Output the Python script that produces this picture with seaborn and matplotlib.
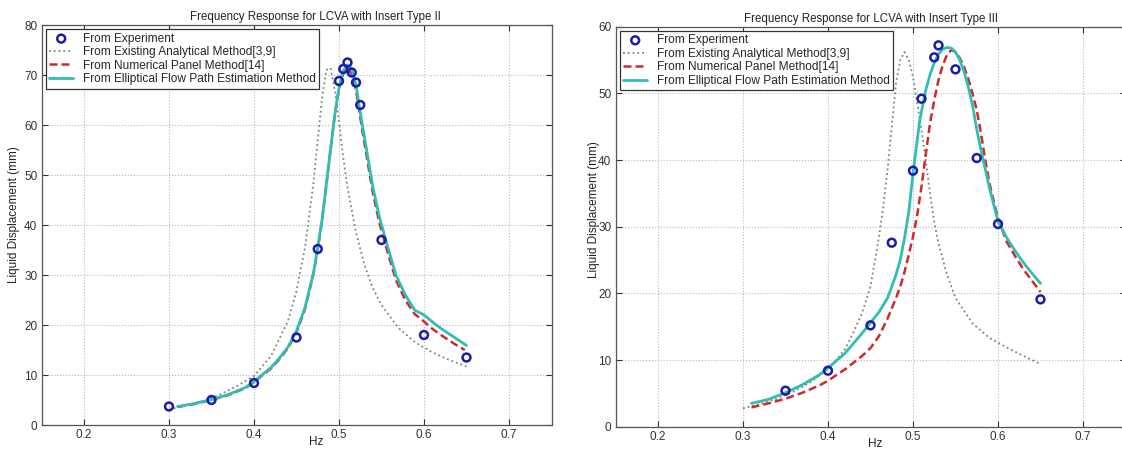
import numpy as np
import pandas as pd
import matplotlib
matplotlib.use('Agg')
import matplotlib.pyplot as plt
import seaborn as sns

# ---- Insert Type II (left) ----
exp2_x = [0.30, 0.35, 0.40, 0.45, 0.475, 0.50, 0.505, 0.51, 0.515, 0.52, 0.525, 0.55, 0.60, 0.65]
exp2_y = [3.7, 5.0, 8.4, 17.5, 35.2, 68.8, 71.2, 72.5, 70.5, 68.5, 64.0, 37.0, 18.0, 13.5]

ana2_x = [0.30, 0.32, 0.34, 0.36, 0.38, 0.40, 0.42, 0.44, 0.45, 0.46, 0.47, 0.475, 0.48, 0.485,
          0.49, 0.495, 0.50, 0.505, 0.51, 0.52, 0.53, 0.54, 0.55, 0.57, 0.59, 0.61, 0.63, 0.65]
ana2_y = [3.1, 3.9, 4.8, 6.1, 7.8, 9.8, 13.8, 20.8, 26.8, 35.5, 48.5, 57.0, 65.3, 71.0,
          71.4, 67.0, 60.5, 53.5, 47.5, 38.5, 32.0, 27.3, 24.0, 19.4, 16.5, 14.5, 13.0, 11.7]

num2_x = [0.31, 0.33, 0.35, 0.37, 0.39, 0.40, 0.42, 0.43, 0.44, 0.45, 0.46, 0.47, 0.475, 0.48,
          0.485, 0.49, 0.495, 0.50, 0.505, 0.51, 0.515, 0.52, 0.525, 0.53, 0.535, 0.54, 0.547,
          0.555, 0.567, 0.578, 0.589, 0.60, 0.61, 0.62, 0.635, 0.648]
num2_y = [3.6, 4.2, 5.0, 6.0, 7.4, 8.6, 11.3, 13.2, 15.4, 18.5, 23.2, 30.2, 35.2, 40.8,
          47.8, 55.0, 62.0, 67.3, 70.3, 71.3, 70.2, 67.0, 61.5, 56.3, 51.3, 46.3, 40.8,
          35.8, 29.0, 25.0, 22.2, 20.7, 19.2, 18.0, 16.3, 15.0]

ell2_x = [0.31, 0.33, 0.35, 0.37, 0.39, 0.40, 0.42, 0.43, 0.44, 0.45, 0.46, 0.47, 0.475, 0.48,
          0.485, 0.49, 0.495, 0.50, 0.505, 0.51, 0.515, 0.52, 0.525, 0.53, 0.535, 0.54, 0.547,
          0.555, 0.567, 0.578, 0.589, 0.60, 0.61, 0.62, 0.635, 0.65]
ell2_y = [3.7, 4.3, 5.1, 6.1, 7.5, 8.7, 11.5, 13.4, 15.6, 18.8, 23.5, 30.5, 35.5, 41.0,
          48.0, 55.0, 62.0, 67.5, 70.8, 72.0, 71.2, 68.0, 62.5, 57.5, 52.5, 47.5, 42.0,
          37.0, 30.0, 26.0, 23.0, 22.0, 20.6, 19.3, 17.6, 15.9]

# ---- Insert Type III (right) ----
exp3_x = [0.35, 0.40, 0.45, 0.475, 0.50, 0.51, 0.525, 0.53, 0.55, 0.575, 0.60, 0.65]
exp3_y = [5.4, 8.4, 15.2, 27.6, 38.4, 49.2, 55.4, 57.2, 53.6, 40.3, 30.4, 19.1]

ana3_x = [0.30, 0.32, 0.34, 0.36, 0.38, 0.40, 0.42, 0.43, 0.44, 0.45, 0.46, 0.465, 0.47, 0.475,
          0.48, 0.485, 0.49, 0.495, 0.50, 0.505, 0.51, 0.515, 0.52, 0.525, 0.53, 0.54, 0.55,
          0.57, 0.59, 0.60, 0.61, 0.63, 0.65]
ana3_y = [2.75, 3.4, 4.2, 5.3, 6.7, 8.6, 11.6, 14.2, 17.0, 21.0, 28.5, 33.0, 38.5, 45.0,
          51.5, 55.0, 56.2, 55.0, 52.5, 48.5, 44.5, 40.0, 35.0, 30.7, 27.5, 22.8, 19.3,
          15.5, 13.3, 12.6, 11.9, 10.6, 9.4]

num3_x = [0.31, 0.33, 0.35, 0.37, 0.39, 0.40, 0.42, 0.44, 0.45, 0.46, 0.47, 0.48, 0.485, 0.49,
          0.495, 0.50, 0.505, 0.51, 0.515, 0.52, 0.525, 0.53, 0.535, 0.54, 0.545, 0.55, 0.555,
          0.56, 0.565, 0.57, 0.575, 0.58, 0.585, 0.59, 0.595, 0.60, 0.61, 0.62, 0.63, 0.64, 0.65]
num3_y = [2.9, 3.5, 4.2, 5.1, 6.2, 6.9, 8.6, 10.6, 11.8, 13.6, 16.2, 19.3, 21.0, 23.2,
          25.8, 28.5, 31.8, 36.0, 40.8, 45.5, 49.0, 52.0, 54.2, 55.8, 56.5, 56.2, 55.3,
          54.0, 52.2, 50.0, 47.5, 44.0, 40.0, 36.5, 33.8, 31.3, 27.8, 25.6, 23.6, 21.9, 20.2]

ell3_x = [0.31, 0.33, 0.35, 0.37, 0.39, 0.40, 0.42, 0.43, 0.44, 0.45, 0.46, 0.47, 0.475, 0.48,
          0.485, 0.49, 0.495, 0.50, 0.504, 0.508, 0.515, 0.52, 0.525, 0.53, 0.535, 0.54, 0.545,
          0.55, 0.555, 0.56, 0.565, 0.57, 0.575, 0.58, 0.59, 0.60, 0.61, 0.62, 0.63, 0.64, 0.65]
ell3_y = [3.5, 4.1, 5.1, 6.3, 7.8, 8.8, 11.0, 12.5, 14.0, 15.6, 17.2, 19.3, 21.0, 22.8,
          25.0, 28.3, 32.2, 38.0, 42.0, 46.0, 50.5, 52.8, 54.6, 55.9, 56.6, 56.9, 56.8,
          56.2, 55.0, 53.3, 51.0, 48.2, 44.6, 41.5, 35.8, 30.8, 28.4, 26.4, 24.6, 23.0, 21.5]

labels = ['From Experiment', 'From Existing Analytical Method[3,9]',
          'From Numerical Panel Method[14]', 'From Elliptical Flow Path Estimation Method']
titles = ['Frequency Response for LCVA with Insert Type II',
          'Frequency Response for LCVA with Insert Type III']

sns.set_theme(style='white')
plt.rcParams['font.family'] = ['Liberation Sans', 'DejaVu Sans']

c_exp = '#1c1ca8'
c_ana = '#6f8f6f'
c_num = '#cf2a2a'
c_ell = '#30bdb3'

fig = plt.figure(figsize=(11.22, 4.5), dpi=100)
W, H = 1122.0, 450.0
ax1 = fig.add_axes([41.5 / W, 25 / H, 510 / W, 400 / H])
ax2 = fig.add_axes([615.5 / W, 23.3 / H, 510 / W, 400 / H])

panels = [
    (ax1, exp2_x, exp2_y, ana2_x, ana2_y, num2_x, num2_y, ell2_x, ell2_y, 80, titles[0], 0.538, 0.527),
    (ax2, exp3_x, exp3_y, ana3_x, ana3_y, num3_x, num3_y, ell3_x, ell3_y, 60, titles[1], 0.50, 0.543),
]

for ax, ex, ey, ax_, ay, nx, ny, lx, ly, ymax, title, tx, ly_pos in panels:
    sns.scatterplot(x=ex, y=ey, ax=ax, marker='o', s=32, facecolor='none',
                    edgecolor=c_exp, linewidth=1.8, zorder=5, label=labels[0])
    sns.lineplot(x=ax_, y=ay, ax=ax, color=c_ana, linestyle=':', linewidth=1.3,
                 sort=False, errorbar=None, label=labels[1])
    sns.lineplot(x=nx, y=ny, ax=ax, color=c_num, linestyle=(0, (3.2, 1.6)), linewidth=1.8,
                 sort=False, errorbar=None, label=labels[2])
    sns.lineplot(x=lx, y=ly, ax=ax, color=c_ell, linestyle='-', linewidth=2.0,
                 sort=False, errorbar=None, label=labels[3])

    ax.set_xlim(0.15, 0.75)
    ax.set_ylim(0, ymax)
    ax.set_xticks([0.2, 0.3, 0.4, 0.5, 0.6, 0.7])
    ax.set_yticks(np.arange(0, ymax + 1, 10))
    ax.grid(True, linestyle=':', color='#b8b8b8', linewidth=0.8)
    for sp in ax.spines.values():
        sp.set_color('#555555')
        sp.set_linewidth(0.9)
    ax.tick_params(direction='in', length=4, width=0.8, colors='#333333',
                   labelsize=8.5, pad=3, top=True, right=True, bottom=True, left=True)

    ax.set_title(title, fontsize=8.3, x=tx, pad=3.5, color='#222222')
    ax.set_xlabel('Hz', fontsize=8.5, color='#222222')
    ax.xaxis.set_label_coords(0.538 if ymax == 80 else 0.51, -0.043)
    ax.xaxis.label.set_va('center')
    ax.set_ylabel('Liquid Displacement (mm)', fontsize=8.5, color='#222222')
    ax.yaxis.label.set_va('center')
    ax.yaxis.set_label_coords(-0.054 if ymax == 80 else -0.042, ly_pos)

    leg = ax.legend(loc='upper left', bbox_to_anchor=(0, 1), borderaxespad=0.35,
                    fontsize=8.6, frameon=True, fancybox=False, framealpha=1,
                    edgecolor='#333333', handlelength=2.0, handletextpad=0.8,
                    labelspacing=0.12, borderpad=0.3, scatterpoints=1)
    leg.get_frame().set_linewidth(0.9)

fig.savefig('out.png', dpi=100)
